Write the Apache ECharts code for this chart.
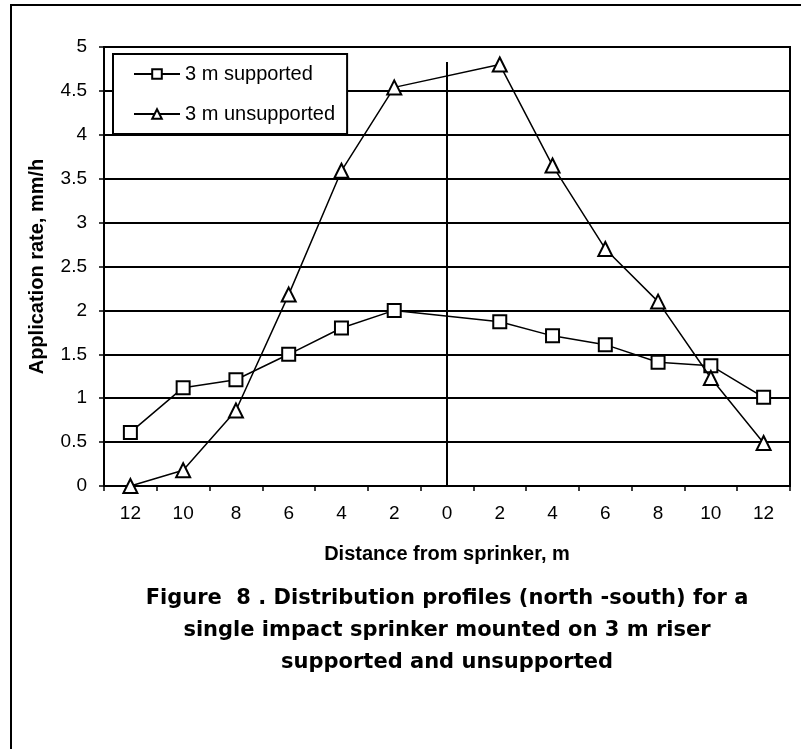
<!DOCTYPE html>
<html>
<head>
<meta charset="utf-8">
<script src="https://cdn.jsdelivr.net/npm/echarts@6/dist/echarts.min.js"></script>
<style>
  html, body { margin: 0; padding: 0; background: #fff; }
  #chart { width: 801px; height: 749px; }
</style>
</head>
<body>
<div id="chart"></div>
<script>
// distance from sprinkler, m (south side ... north side)
const distances = ['12', '10', '8', '6', '4', '2', '0', '2', '4', '6', '8', '10', '12']
const supported = [0.61, 1.12, 1.21, 1.5, 1.8, 2.0, null, 1.87, 1.71, 1.61, 1.41, 1.37, 1.01]
const unsupported = [0.0, 0.18, 0.86, 2.18, 3.59, 4.54, null, 4.8, 3.65, 2.7, 2.1, 1.23, 0.49]
const sprinklerLineTop = 4.83
const titleLines = [
  'Figure  8 . Distribution profiles (north -south) for a',
  'single impact sprinker mounted on 3 m riser',
  'supported and unsupported'
]

const chart = echarts.init(document.getElementById('chart'))
const font = '"Liberation Sans", Arial, sans-serif'

const option = {
  animation: false,
  backgroundColor: '#fff',
  textStyle: {fontFamily: font, color: '#000'},
  grid: {
    left: 104, top: 47, right: 11, bottom: 263,
    show: true, borderColor: '#000', borderWidth: 2, backgroundColor: 'transparent'
  },
  legend: {
    orient: 'vertical',
    left: 113, top: 54,
    backgroundColor: '#fff',
    borderColor: '#000',
    borderWidth: 2,
    padding: [10, 12, 10, 20],
    itemGap: 20,
    itemWidth: 46,
    itemHeight: 12,
    textStyle: {fontSize: 20, color: '#000', fontFamily: font, lineHeight: 20},
    data: ['3 m supported', '3 m unsupported']
  },
  xAxis: {
    type: 'category',
    data: distances,
    boundaryGap: true,
    name: 'Distance from sprinker, m',
    nameLocation: 'middle',
    nameGap: 58,
    nameTextStyle: {fontSize: 20, fontWeight: 'bold', color: '#000'},
    axisLine: {lineStyle: {color: '#000', width: 2}},
    axisTick: {show: true, length: 5, lineStyle: {color: '#000', width: 1.5}},
    axisLabel: {fontSize: 19, color: '#000', margin: 18},
    splitLine: {show: false}
  },
  yAxis: {
    type: 'value',
    min: 0, max: 5, interval: 0.5,
    name: 'Application rate, mm/h',
    nameLocation: 'middle',
    nameRotate: 90,
    nameGap: 57,
    nameTextStyle: {fontSize: 20, fontWeight: 'bold', color: '#000'},
    axisLine: {show: true, lineStyle: {color: '#000', width: 2}},
    axisTick: {show: true, length: 5, lineStyle: {color: '#000', width: 1.5}},
    axisLabel: {fontSize: 19, color: '#000', margin: 17},
    splitLine: {show: true, lineStyle: {color: '#000', width: 2}}
  },
  series: [
    {
      name: '3 m supported',
      type: 'line',
      data: supported,
      connectNulls: true,
      symbol: 'rect',
      symbolSize: 13,
      lineStyle: {color: '#000', width: 1.5},
      itemStyle: {color: '#fff', borderColor: '#000', borderWidth: 2},
      z: 3,
      markLine: {
        silent: true,
        symbol: 'none',
        label: {show: false},
        lineStyle: {color: '#000', width: 2, type: 'solid'},
        data: [[{coord: [6, 0]}, {coord: [6, sprinklerLineTop]}]]
      }
    },
    {
      name: '3 m unsupported',
      type: 'line',
      data: unsupported,
      connectNulls: true,
      symbol: 'triangle',
      symbolSize: 14,
      lineStyle: {color: '#000', width: 1.5},
      itemStyle: {color: '#fff', borderColor: '#000', borderWidth: 2},
      z: 4
    }
  ],
  graphic: [
    {
      type: 'polyline',
      shape: {points: [[11, 749], [11, 5], [801, 5]]},
      style: {stroke: '#000', lineWidth: 2, fill: null}
    },
    ...titleLines.map((t, i) => ({
      type: 'text',
      x: 447,
      y: 599 + i * 32,
      style: {
        text: t,
        align: 'center',
        verticalAlign: 'middle',
        font: 'bold 21px "DejaVu Sans", sans-serif',
        fill: '#000'
      }
    }))
  ]
}
chart.setOption(option)
</script>
</body>
</html>
